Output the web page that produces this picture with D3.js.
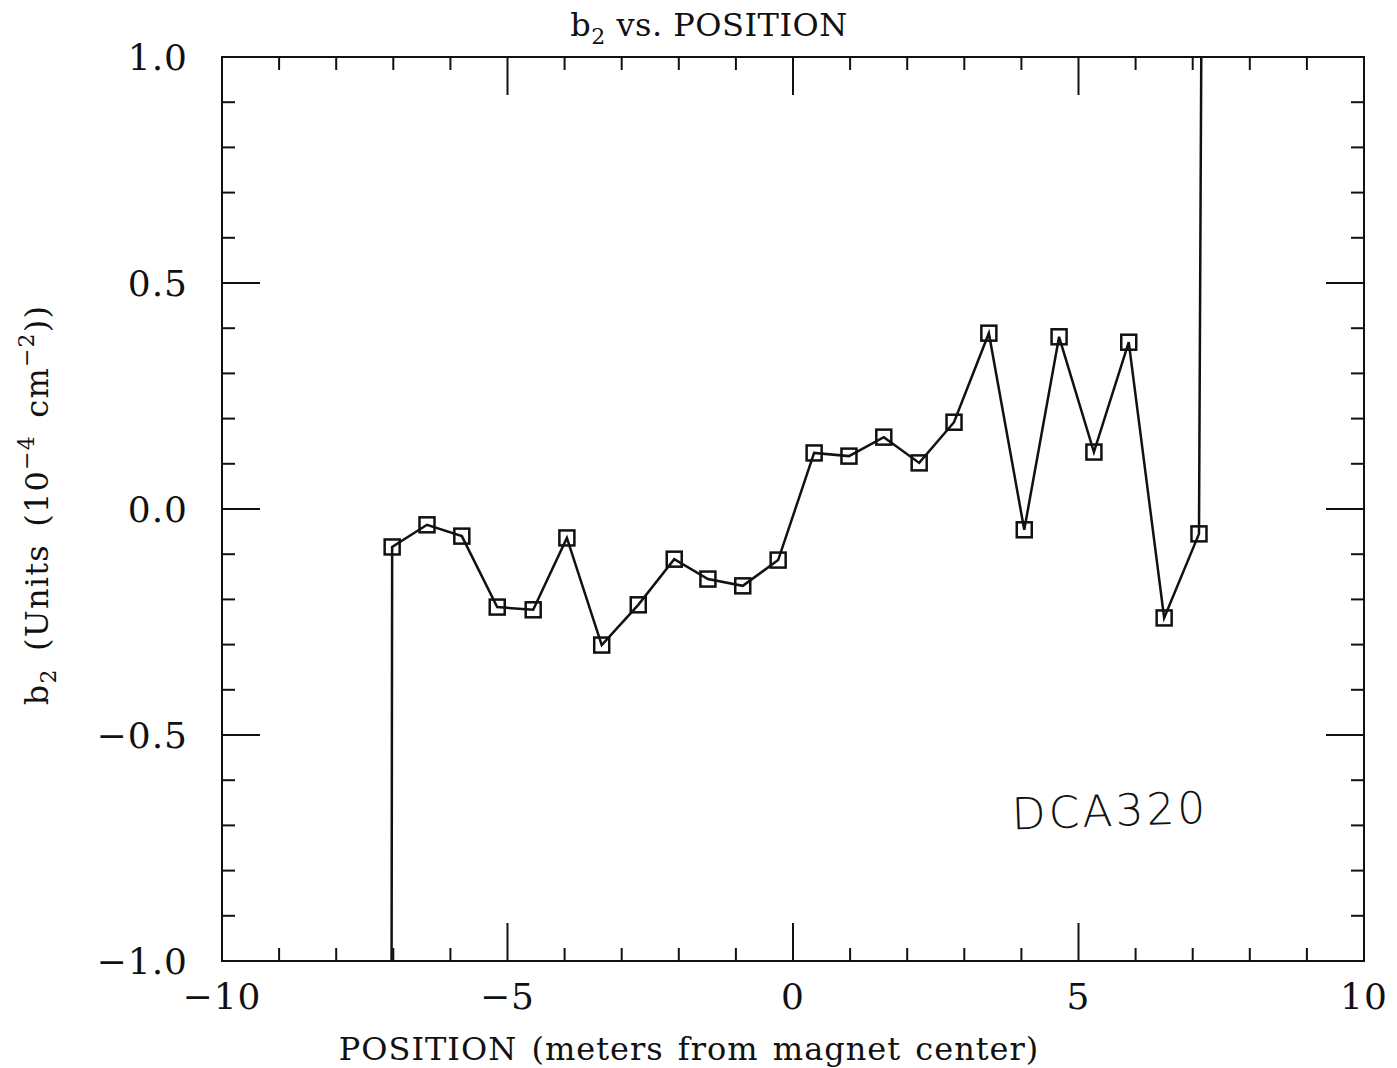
<!DOCTYPE html>
<html>
<head>
<meta charset="utf-8">
<script src="https://cdn.jsdelivr.net/npm/d3@7"></script>
<style>
  body { margin: 0; background: #fff; }
  svg text { fill: #111; }
</style>
</head>
<body>
<div id="chart"></div>
<script>
//1. Data
const positions = [-7.02, -6.41, -5.80, -5.18, -4.55, -3.96, -3.35, -2.71, -2.08, -1.49, -0.88, -0.26,
                   0.37, 0.98, 1.59, 2.21, 2.82, 3.43, 4.05, 4.66, 5.27, 5.88, 6.50, 7.11];
const b2 = [-0.084, -0.035, -0.060, -0.217, -0.223, -0.064, -0.301, -0.212, -0.111, -0.155, -0.170, -0.113,
            0.124, 0.117, 0.159, 0.102, 0.192, 0.389, -0.046, 0.381, 0.126, 0.369, -0.241, -0.055];
// the trace runs off the frame at both ends
const tailStart = { x: -7.03, y: -1.0 };
const tailEnd = { x: 7.15, y: 1.0 };

const xTicksMajor = [-10, -5, 0, 5, 10];
const yTicksMajor = [-1.0, -0.5, 0.0, 0.5, 1.0];

//2. Sizes
const width = 1397, height = 1068;
const margin = { top: 57, right: 33, bottom: 107, left: 222 };
const serif = "'DejaVu Serif', serif";

const svg = d3.select("#chart").append("svg")
  .attr("width", width)
  .attr("height", height)
  .style("font-family", serif);

const x = d3.scaleLinear().domain([-10, 10]).range([margin.left, width - margin.right]);
const y = d3.scaleLinear().domain([-1, 1]).range([height - margin.bottom, margin.top]);

//3. Frame
svg.append("rect")
  .attr("x", x(-10)).attr("y", y(1))
  .attr("width", x(10) - x(-10)).attr("height", y(-1) - y(1))
  .attr("fill", "none").attr("stroke", "#111").attr("stroke-width", 2);

//4. Ticks on all four sides (minor every 1 m / 0.1 unit, major every 5 / 0.5)
const xMinor = d3.range(-10, 10.01, 1);
const yMinor = d3.range(-10, 11, 1).map(d => d / 10);
const tickG = svg.append("g").attr("stroke", "#111").attr("stroke-width", 2);

xMinor.forEach(v => {
  const len = v % 5 === 0 ? 38 : 13;
  tickG.append("line").attr("x1", x(v)).attr("x2", x(v)).attr("y1", y(-1)).attr("y2", y(-1) - len);
  tickG.append("line").attr("x1", x(v)).attr("x2", x(v)).attr("y1", y(1)).attr("y2", y(1) + len);
});
yMinor.forEach(v => {
  const len = Math.abs(Math.round(v * 10)) % 5 === 0 ? 38 : 13;
  tickG.append("line").attr("y1", y(v)).attr("y2", y(v)).attr("x1", x(-10)).attr("x2", x(-10) + len);
  tickG.append("line").attr("y1", y(v)).attr("y2", y(v)).attr("x1", x(10)).attr("x2", x(10) - len);
});

//5. Tick labels
const fmtX = d => d < 0 ? "\u2212" + Math.abs(d) : String(d);
const fmtY = d => d < 0 ? "\u2212" + Math.abs(d).toFixed(1) : d.toFixed(1);

svg.selectAll(".xlab")
  .data(xTicksMajor)
  .enter().append("text")
    .attr("class", "xlab")
    .attr("x", d => x(d))
    .attr("y", y(-1) + 48)
    .attr("text-anchor", "middle")
    .attr("font-size", 36)
    .attr("letter-spacing", 1)
    .text(fmtX);

svg.selectAll(".ylab")
  .data(yTicksMajor)
  .enter().append("text")
    .attr("class", "ylab")
    .attr("x", x(-10) - 34)
    .attr("y", d => y(d))
    .attr("dy", "0.36em")
    .attr("text-anchor", "end")
    .attr("font-size", 36)
    .attr("letter-spacing", 1)
    .text(fmtY);

//6. The trace
const pts = positions.map((p, i) => ({ x: p, y: b2[i] }));
const trace = [tailStart].concat(pts, [tailEnd]);

svg.append("path")
  .datum(trace)
  .attr("d", d3.line().x(d => x(d.x)).y(d => y(d.y)))
  .attr("fill", "none")
  .attr("stroke", "#111")
  .attr("stroke-width", 2.5);

const sq = 15;
svg.selectAll(".pt")
  .data(pts)
  .enter().append("rect")
    .attr("class", "pt")
    .attr("x", d => x(d.x) - sq / 2)
    .attr("y", d => y(d.y) - sq / 2)
    .attr("width", sq)
    .attr("height", sq)
    .attr("fill", "none")
    .attr("stroke", "#111")
    .attr("stroke-width", 2.5);

//7. Titles
const title = svg.append("text")
  .attr("x", 709)
  .attr("y", 36)
  .attr("text-anchor", "middle")
  .attr("font-size", 32)
  .attr("letter-spacing", 0.5);
title.append("tspan").text("b");
title.append("tspan").attr("font-size", 22).attr("dy", 8).text("2");
title.append("tspan").attr("dy", -8).text(" vs. POSITION");

svg.append("text")
  .attr("x", 689)
  .attr("y", 1060)
  .attr("text-anchor", "middle")
  .attr("font-size", 32)
  .attr("letter-spacing", 1)
  .attr("word-spacing", 3)
  .text("POSITION (meters from magnet center)");

const yl = svg.append("text")
  .attr("transform", `translate(48,${(y(1) + y(-1)) / 2 - 4}) rotate(-90)`)
  .attr("text-anchor", "middle")
  .attr("font-size", 32)
  .attr("letter-spacing", 1.2)
  .attr("word-spacing", 6);
yl.append("tspan").text("b");
yl.append("tspan").attr("font-size", 22).attr("dy", 8).text("2");
yl.append("tspan").attr("dy", -8).text(" (Units (10");
yl.append("tspan").attr("font-size", 22).attr("dy", -14).text("\u22124");
yl.append("tspan").attr("dy", 14).text(" cm");
yl.append("tspan").attr("font-size", 22).attr("dy", -14).text("\u22122");
yl.append("tspan").attr("dy", 14).text("))");

//8. Handwritten note
svg.append("text")
  .attr("x", 1110)
  .attr("y", 826)
  .attr("text-anchor", "middle")
  .style("font-family", "'DejaVu Sans', sans-serif")
  .style("font-weight", 200)
  .attr("font-size", 44)
  .attr("letter-spacing", 3)
  .attr("transform", "rotate(-2,1110,810)")
  .text("DCA320");
</script>
</body>
</html>
